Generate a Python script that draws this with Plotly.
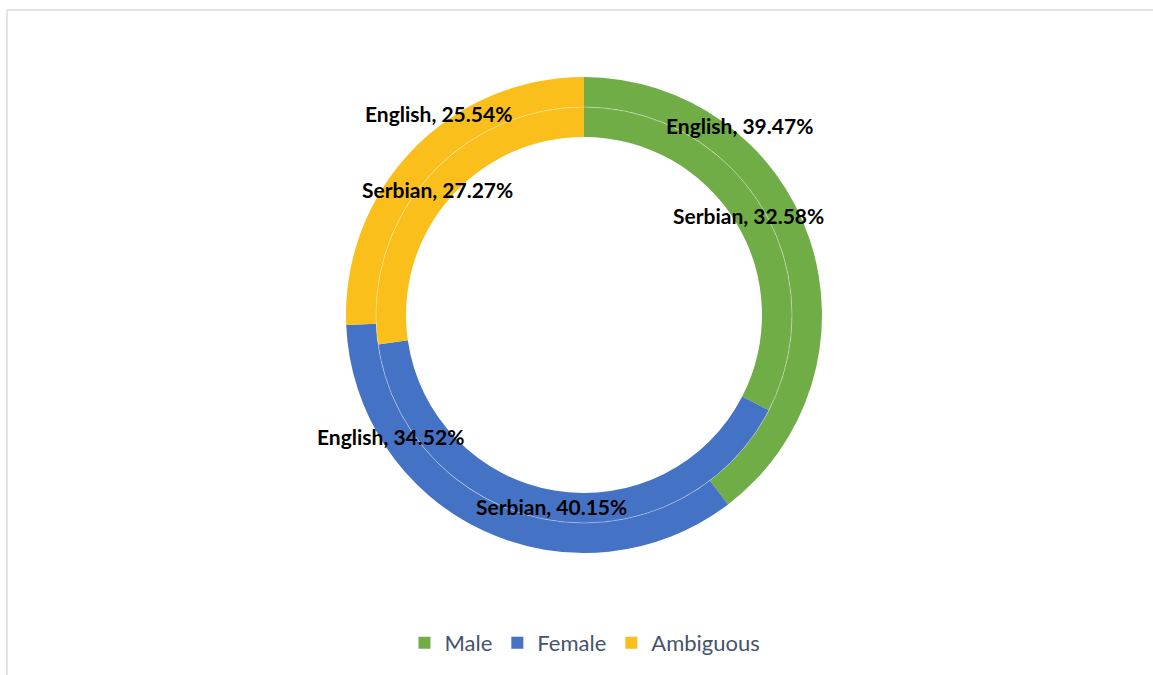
import plotly.graph_objects as go

# Gender share of names, per language
categories = ["Male", "Female", "Ambiguous"]
english = [39.47, 34.52, 25.54]
serbian = [32.58, 40.15, 27.27]
colors = ["#70AD47", "#4472C4", "#FBBF1C"]

W, H = 1153, 675
CX, CY = 584, 315          # donut centre, px from top-left
R_OUT, R_MID, R_IN = 238, 208, 178


def dom(r):
    return dict(
        x=[(CX - r) / W, (CX + r) / W],
        y=[(H - CY - r) / H, (H - CY + r) / H],
    )


fig = go.Figure()
fig.add_trace(go.Pie(
    labels=categories, values=english, name="English",
    domain=dom(R_OUT), hole=R_MID / R_OUT,
    sort=False, direction="clockwise", rotation=0,
    marker=dict(colors=colors, line=dict(width=0)),
    textinfo="none", hoverinfo="label+value",
))
fig.add_trace(go.Pie(
    labels=categories, values=serbian, name="Serbian",
    domain=dom(R_MID), hole=R_IN / R_MID,
    sort=False, direction="clockwise", rotation=0,
    marker=dict(colors=colors, line=dict(width=0)),
    textinfo="none", hoverinfo="label+value",
))

# data labels: (series name, values, label centres in px)
label_pos = {
    "English": [(739, 126), (390, 436), (438, 114)],
    "Serbian": [(748, 215), (551, 507), (437, 190)],
}
annotations = []
for name, vals in (("English", english), ("Serbian", serbian)):
    for v, (px, py) in zip(vals, label_pos[name]):
        annotations.append(dict(
            x=px / W, y=(H - py) / H, xref="paper", yref="paper",
            text=f"{name}, {v:.2f}%", showarrow=False,
            xanchor="center", yanchor="middle",
            font=dict(family="Lato", size=21, color="#000000", weight="bold"),
        ))

shapes = [
    # thin seam between the two rings
    dict(type="circle", xref="paper", yref="paper",
         x0=(CX - R_MID) / W, x1=(CX + R_MID) / W,
         y0=(H - CY - R_MID) / H, y1=(H - CY + R_MID) / H,
         line=dict(color="rgba(255,255,255,0.45)", width=0.8)),
    # chart-area frame (top and left edges)
    dict(type="line", xref="paper", yref="paper",
         x0=7 / W, x1=1.0, y0=(H - 10) / H, y1=(H - 10) / H,
         line=dict(color="#D9DCE1", width=1.5)),
    dict(type="line", xref="paper", yref="paper",
         x0=7 / W, x1=7 / W, y0=0, y1=(H - 10) / H,
         line=dict(color="#D9DCE1", width=1.5)),
]

fig.update_layout(
    width=W, height=H,
    margin=dict(l=0, r=0, t=0, b=0),
    paper_bgcolor="white", plot_bgcolor="white",
    showlegend=True,
    legend=dict(
        orientation="h", x=585 / W, xanchor="center",
        y=(H - 643) / H, yanchor="middle",
        font=dict(family="Lato", size=22, color="#44546A"),
        itemclick=False, itemdoubleclick=False,
    ),
    annotations=annotations,
    shapes=shapes,
)

fig.write_html("out.html")
